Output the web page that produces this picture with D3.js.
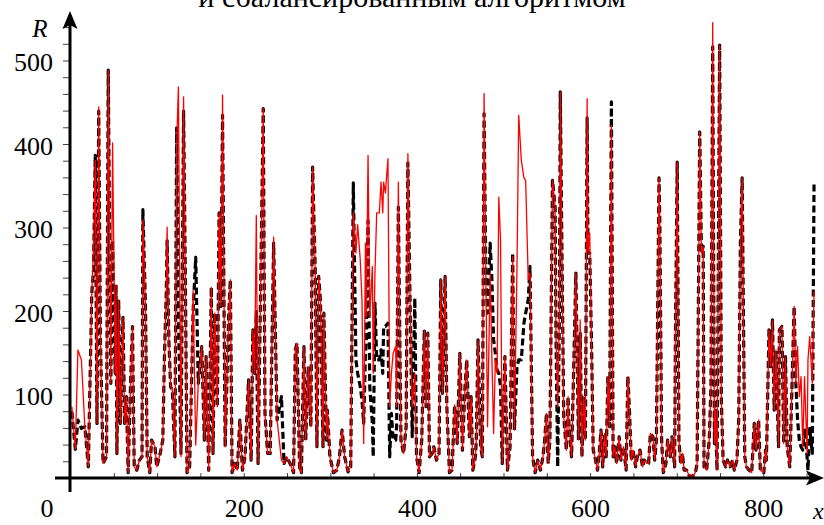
<!DOCTYPE html>
<html>
<head>
<meta charset="utf-8">
<script src="https://cdnjs.cloudflare.com/ajax/libs/d3/7.8.5/d3.min.js"></script>
<style>
  body { margin: 0; background: #fff; }
  svg { display: block; }
</style>
</head>
<body>
<div id="chart"></div>
<script>
const width = 824
const height = 525
const serif = '"Liberation Serif"'

const title = "и сбалансированным алгоритмом"
const xTickLabels = [200, 400, 600, 800]
const yTickLabels = [100, 200, 300, 400, 500]

// x positions (shared by both series)
const xs = [
  1,5,8,12,16,20,24,26,28,30,32,34,37,41,43,46,48,51,52,53,55,57,60,62,64,66,69,71,73,76,79,82,83,86,88,91,93,97,99,103,106,108,110,111,113,115,117,120,122,124,127,130,132,134,137,141,
  144,147,151,154,156,159,162,164,166,169,171,173,175,178,182,184,186,189,192,195,198,201,205,208,210,212,214,216,219,222,224,227,230,234,238,243,246,249,253,257,259,261,264,266,269,271,274,277,279,282,284,286,
  288,291,292,295,296,299,303,307,310,313,316,320,323,326,329,331,334,336,338,340,341,343,345,348,349,351,353,356,358,360,361,363,366,368,370,372,375,376,378,381,384,387,389,392,394,397,399,402,405,408,410,412,414,417,419,422,425,427,429,432,434,437,440,
  443,446,449,452,455,457,460,462,464,467,468,470,473,475,477,479,481,484,486,488,490,492,494,496,498,501,504,507,510,512,515,517,520,523,525,528,530,533,536,539,542,545,547,549,551,553,556,559,560,562,564,565,567,569,572,574,575,578,580,583,586,588,590,592,594,
  596,597,599,601,603,605,608,610,612,614,616,618,620,622,624,626,628,630,633,635,638,641,643,645,647,649,652,654,657,660,662,665,667,669,672,674,676,679,680,682,684,687,689,692,694,697,698,700,702,704,706,708,711,714,718,721,723,726,728,730,
  731,734,737,739,741,743,744,746,749,751,753,756,758,761,764,766,769,771,773,775,778,780,783,786,789,791,794,796,800,802,803,806,808,810,812,814,817,818,821,823,825,827,830,832,835,837,839,841,843,845,847,850,851,853,856,858
]

// red solid curve
const redR = [
  86,35,154,142,62,14,222,277,381,66,445,166,18,26,489,114,402,126,232,30,214,66,193,66,98,7,122,182,14,10,22,26,310,206,26,7,46,38,14,30,46,150,222,301,166,110,106,26,400,469,26,457,246,7,14,225,
  40,114,158,46,146,10,229,30,198,86,318,206,459,38,193,238,7,18,10,70,10,26,118,22,178,126,315,18,229,443,78,30,30,289,70,22,18,26,18,7,154,162,10,7,158,46,134,62,373,250,38,242,
  214,38,198,46,82,26,7,10,26,58,26,8,14,318,270,304,262,214,42,282,194,387,194,254,126,246,318,318,355,318,355,342,383,86,126,150,158,86,355,46,30,62,389,182,86,126,26,7,46,178,86,174,26,30,38,22,30,238,102,242,86,7,10,
  88,42,150,34,110,142,50,98,10,26,46,166,38,26,461,246,62,246,146,54,142,126,337,286,18,146,10,38,266,58,254,435,381,360,357,238,246,26,7,22,10,26,46,78,18,46,357,325,174,86,198,463,262,74,34,98,62,26,110,246,46,190,26,98,46,
  455,270,294,166,34,26,10,30,58,14,54,26,122,62,423,26,38,18,50,22,38,10,122,78,22,34,14,26,34,14,22,18,18,54,50,22,46,360,301,46,7,18,46,26,50,14,174,379,46,18,30,10,10,3,3,7,18,415,270,278,
  14,10,46,110,546,42,82,10,519,94,22,14,22,14,22,10,22,70,282,360,26,14,10,7,66,34,70,10,7,34,22,178,134,190,82,154,38,178,182,42,146,38,14,90,206,114,158,98,122,38,122,30,142,170,114,225
]

// black dashed curve
const blackR = [
  80,35,70,60,62,14,222,250,387,66,440,166,18,26,489,114,285,126,232,30,214,66,193,66,98,7,122,182,14,10,22,26,322,206,26,7,46,38,14,30,46,150,222,285,166,110,106,26,420,200,30,440,246,7,14,200,
  265,114,158,46,146,10,229,30,198,86,318,206,435,38,193,238,7,18,10,70,10,26,118,22,178,126,200,18,229,443,78,30,30,282,70,98,18,26,18,7,154,162,10,7,158,46,134,62,373,250,38,242,
  214,38,198,46,82,26,7,10,26,58,26,8,14,354,142,126,110,94,66,150,166,309,110,66,26,210,142,142,154,126,182,182,186,26,78,46,46,62,325,46,30,62,378,182,50,216,26,7,46,178,86,174,26,30,38,22,30,238,102,242,86,7,10,
  88,42,150,34,110,142,50,98,10,26,46,166,38,26,437,246,198,282,238,166,150,130,126,110,18,146,10,38,270,58,134,142,142,186,198,214,254,26,7,22,10,26,46,78,18,46,357,325,174,14,198,463,262,74,34,98,62,26,110,246,46,174,26,98,46,
  432,270,270,166,34,26,10,30,58,14,54,26,122,62,451,26,38,18,50,22,38,10,122,78,22,34,14,26,34,14,22,18,18,54,50,22,46,360,301,46,7,18,46,26,50,14,174,379,46,18,30,10,10,3,3,7,18,415,270,278,
  14,10,46,110,517,42,82,10,519,94,22,14,22,14,22,10,22,70,282,360,26,14,10,7,66,34,70,10,7,34,22,178,134,190,82,154,38,178,182,42,146,38,14,90,206,114,70,46,38,34,60,26,10,60,30,354
]

const svg = d3.select("#chart")
  .append("svg")
  .attr("width", width)
  .attr("height", height)
  .style("font-family", serif)

const x = d3.scaleLinear().domain([0, 800]).range([71, 763.8])
const y = d3.scaleLinear().domain([0, 500]).range([478.5, 61])

// title (only the bottom of it is in view, as in the original)
svg.append("text")
  .attr("x", 412)
  .attr("y", 7)
  .attr("text-anchor", "middle")
  .attr("font-size", "30px")
  .style("font-family", serif)
  .text(title)

// minor ticks
svg.append("g")
  .selectAll("line")
  .data(d3.range(20, 541, 20))
  .join("line")
    .attr("x1", 63).attr("x2", 70)
    .attr("y1", d => y(d)).attr("y2", d => y(d))
    .attr("stroke", "#444")
    .attr("stroke-width", 1)

svg.append("g")
  .selectAll("line")
  .data(d3.range(50, 851, 50))
  .join("line")
    .attr("x1", d => x(d)).attr("x2", d => x(d))
    .attr("y1", 473).attr("y2", 478)
    .attr("stroke", "#444")
    .attr("stroke-width", 1)

// curves
const line = d3.line()
  .x((d, i) => x(xs[i]))
  .y(d => y(d))

svg.append("path")
  .datum(blackR)
  .attr("fill", "none")
  .attr("stroke", "#000")
  .attr("stroke-width", 3.2)
  .attr("stroke-dasharray", "7,3.5")
  .attr("stroke-linejoin", "round")
  .attr("d", line)

svg.append("path")
  .datum(redR)
  .attr("fill", "none")
  .attr("stroke", "#ff0000")
  .attr("stroke-width", 1.3)
  .attr("stroke-linejoin", "round")
  .attr("d", line)

// axes with arrows
svg.append("line")
  .attr("x1", 70).attr("x2", 70)
  .attr("y1", 492).attr("y2", 22)
  .attr("stroke", "#000").attr("stroke-width", 3)
svg.append("path")
  .attr("d", "M70,11 L62.5,29 L70,25 L77.5,29 Z")
  .attr("fill", "#000")

svg.append("line")
  .attr("x1", 55).attr("x2", 812)
  .attr("y1", 478).attr("y2", 478)
  .attr("stroke", "#000").attr("stroke-width", 3)
svg.append("path")
  .attr("d", "M824,478 L806,470.5 L810,478 L806,485.5 Z")
  .attr("fill", "#000")

// tick labels
svg.append("g")
  .selectAll("text")
  .data(yTickLabels)
  .join("text")
    .attr("x", 53)
    .attr("y", d => y(d) + 10)
    .attr("text-anchor", "end")
    .attr("font-size", "26px")
    .style("font-family", serif)
    .text(d => d)

svg.append("g")
  .selectAll("text")
  .data(xTickLabels)
  .join("text")
    .attr("x", d => x(d))
    .attr("y", 517)
    .attr("text-anchor", "middle")
    .attr("font-size", "26px")
    .style("font-family", serif)
    .text(d => d)

svg.append("text")
  .attr("x", 47).attr("y", 517)
  .attr("text-anchor", "middle")
  .attr("font-size", "26px")
  .style("font-family", serif)
  .text("0")

svg.append("text")
  .attr("x", 40).attr("y", 37)
  .attr("text-anchor", "middle")
  .attr("font-size", "25px")
  .attr("font-style", "italic")
  .style("font-family", serif)
  .text("R")

svg.append("text")
  .attr("x", 813).attr("y", 519)
  .attr("font-size", "24px")
  .attr("font-style", "italic")
  .style("font-family", serif)
  .text("x")
</script>
</body>
</html>
